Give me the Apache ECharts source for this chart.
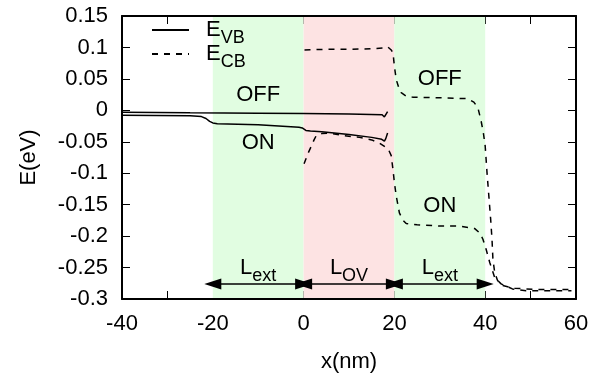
<!DOCTYPE html>
<html>
<head>
<meta charset="utf-8">
<script src="https://cdn.jsdelivr.net/npm/echarts@6/dist/echarts.min.js"></script>
<style>
  html, body { margin: 0; padding: 0; background: #fff; }
  #chart { width: 593px; height: 378px; }
</style>
</head>
<body>
<div id="chart"></div>
<script>
// band edges, [x (nm), E (eV)]
const vbOff = [[-40, -0.003], [-25, -0.004], [-10, -0.0045], [0, -0.005], [10, -0.006], [17.3, -0.007],
  [17.8, -0.0105], [18.1, -0.008], [18.5, -0.002]]
const vbOn = [[-40, -0.008], [-25, -0.0085], [-22.5, -0.010], [-21.5, -0.013], [-20.7, -0.0175], [-20, -0.020],
  [-19, -0.0215], [-10, -0.023], [-1, -0.027], [-0.3, -0.028], [0.5, -0.032], [1.5, -0.033], [4, -0.034],
  [10, -0.0385], [15, -0.043], [17.2, -0.046], [17.8, -0.049], [18.1, -0.045], [18.5, -0.036]]
const cbOff = [[0.2, 0.096], [5, 0.097], [10, 0.097], [15, 0.098], [17.5, 0.099], [18.5, 0.101], [19.3, 0.096],
  [19.7, 0.091], [20, 0.070], [20.4, 0.049], [21, 0.035], [21.5, 0.028], [22.5, 0.023], [24, 0.021], [30, 0.020],
  [36.2, 0.0185], [37.5, 0.013], [38.4, 0.004], [39.1, -0.017], [39.6, -0.036], [40, -0.057], [40.2, -0.078],
  [40.4, -0.099], [40.8, -0.136], [41.2, -0.173], [41.5, -0.205], [41.7, -0.237], [42.1, -0.258], [42.7, -0.270],
  [43.5, -0.278], [46.5, -0.283], [52, -0.285], [59, -0.285]]
const cbOn = [[0.1, -0.085], [1, -0.068], [1.7, -0.057], [2.3, -0.047], [2.8, -0.040], [4, -0.037], [5.7, -0.036],
  [8.6, -0.040], [12.3, -0.043], [15, -0.047], [16.7, -0.052], [18.2, -0.059], [18.8, -0.064], [19.3, -0.072],
  [19.7, -0.095], [20, -0.115], [20.4, -0.136], [21.1, -0.163], [21.8, -0.174], [22.6, -0.180], [25, -0.182],
  [30, -0.184], [34.4, -0.184], [37.7, -0.188], [38.8, -0.195], [39.5, -0.205], [40.2, -0.221], [41, -0.242],
  [41.6, -0.255], [42.1, -0.266], [43.5, -0.276], [46, -0.284], [49, -0.287], [59, -0.287]]

// shaded device regions and the arrows under them
const regionX = [[-20, 0], [0, 20], [20, 40]]
const regionName = ['L{s|ext}', 'L{s|OV}', 'L{s|ext}']
const arrowY = -0.276
const regionLabelY = -0.25

// OFF / ON state annotations
const stateX = [-10, -10, 30, 30]
const stateY = [0.025, -0.052, 0.050, -0.152]
const stateText = ['OFF', 'ON', 'OFF', 'ON']

const xMin = -40, xMax = 60, yMin = -0.3, yMax = 0.15

const font = 'Liberation Sans, Arial, Helvetica, sans-serif'
const regionColor = ['#e1fde1', '#fde3e3', '#e1fde1']

const rich = {
  s: { fontSize: 18, fontFamily: font, color: '#000', verticalAlign: 'bottom', padding: [16, 0, 0, 0] },
  g: { width: 12 }
}

const axisCommon = {
  type: 'value',
  axisLine: { show: true, onZero: false, lineStyle: { color: '#000', width: 2 } },
  axisTick: { show: true, inside: true, length: 8, lineStyle: { color: '#000', width: 1 } },
  splitLine: { show: false }
}

const xAxisCommon = {
  ...axisCommon,
  min: xMin, max: xMax, interval: 20,
  minorTick: { show: true, splitNumber: 2, length: 8, lineStyle: { color: '#000', width: 1 } },
  minorSplitLine: { show: false }
}
const yAxisCommon = { ...axisCommon, min: yMin, max: yMax, interval: 0.05 }

const lineSeries = (name, data, type) => ({
  name,
  type: 'line',
  data,
  symbol: 'none',
  z: 3,
  silent: true,
  itemStyle: { color: '#000' },
  lineStyle: { color: '#000', width: 1.5, type: type === 'dashed' ? [6, 6] : 'solid' }
})

const legendCommon = {
  left: 151, padding: 0, orient: 'vertical', selectedMode: false,
  itemWidth: 37, itemHeight: 14,
  itemStyle: { opacity: 0 },
  textStyle: { fontSize: 22, color: '#000', fontFamily: font, rich }
}

const plainLabel = {
  show: true, position: 'inside', fontSize: 22, color: '#000', fontFamily: font,
  textBorderWidth: 0, formatter: p => p.data[2]
}

const chart = echarts.init(document.getElementById('chart'))

chart.setOption({
  animation: false,
  textStyle: { fontFamily: font },
  grid: { left: 122, right: 17, top: 16, bottom: 78 },
  legend: [
    { ...legendCommon, data: ['VB'], top: 19, formatter: () => '{g|}E{s|VB}' },
    { ...legendCommon, data: ['CB'], top: 43, formatter: () => '{g|}E{s|CB}' }
  ],
  xAxis: [
    {
      ...xAxisCommon, position: 'bottom',
      axisLabel: { fontSize: 22, color: '#000', margin: 14 },
      name: 'x(nm)', nameLocation: 'middle', nameGap: 52,
      nameTextStyle: { fontSize: 22, color: '#000' }
    },
    { ...xAxisCommon, position: 'top', axisLabel: { show: false } }
  ],
  yAxis: [
    {
      ...yAxisCommon, position: 'left',
      axisLabel: { fontSize: 22, color: '#000', margin: 14 },
      name: 'E(eV)', nameLocation: 'middle', nameGap: 82, nameRotate: 90,
      nameTextStyle: { fontSize: 22, color: '#000' }
    },
    { ...yAxisCommon, position: 'right', axisLabel: { show: false } }
  ],
  series: [
    {
      type: 'line',
      data: [],
      z: 1,
      silent: true,
      markArea: {
        silent: true,
        data: regionX.map((r, i) => [
          { xAxis: r[0], yAxis: yMin + 0.0015, itemStyle: { color: regionColor[i] } },
          { xAxis: r[1], yAxis: yMax - 0.0015 }
        ])
      },
      markLine: {
        silent: true,
        symbol: ['triangle', 'triangle'],
        symbolSize: [11, 17],
        label: { show: false },
        lineStyle: { color: '#000', width: 1.5, type: 'solid' },
        itemStyle: { color: '#000' },
        data: regionX.map(r => [{ coord: [r[0], arrowY] }, { coord: [r[1], arrowY] }])
      }
    },
    lineSeries('VB', vbOff, 'solid'),
    lineSeries('VB', vbOn, 'solid'),
    lineSeries('CB', cbOff, 'dashed'),
    lineSeries('CB', cbOn, 'dashed'),
    {
      type: 'scatter',
      symbolSize: 0,
      silent: true,
      z: 4,
      itemStyle: { color: '#000', opacity: 1 },
      data: stateText.map((t, i) => [stateX[i], stateY[i], t]),
      label: plainLabel
    },
    {
      type: 'scatter',
      symbolSize: 0,
      silent: true,
      z: 4,
      itemStyle: { color: '#000', opacity: 1 },
      data: regionName.map((t, i) => [(regionX[i][0] + regionX[i][1]) / 2, regionLabelY, t]),
      label: { ...plainLabel, rich }
    }
  ]
})
</script>
</body>
</html>
